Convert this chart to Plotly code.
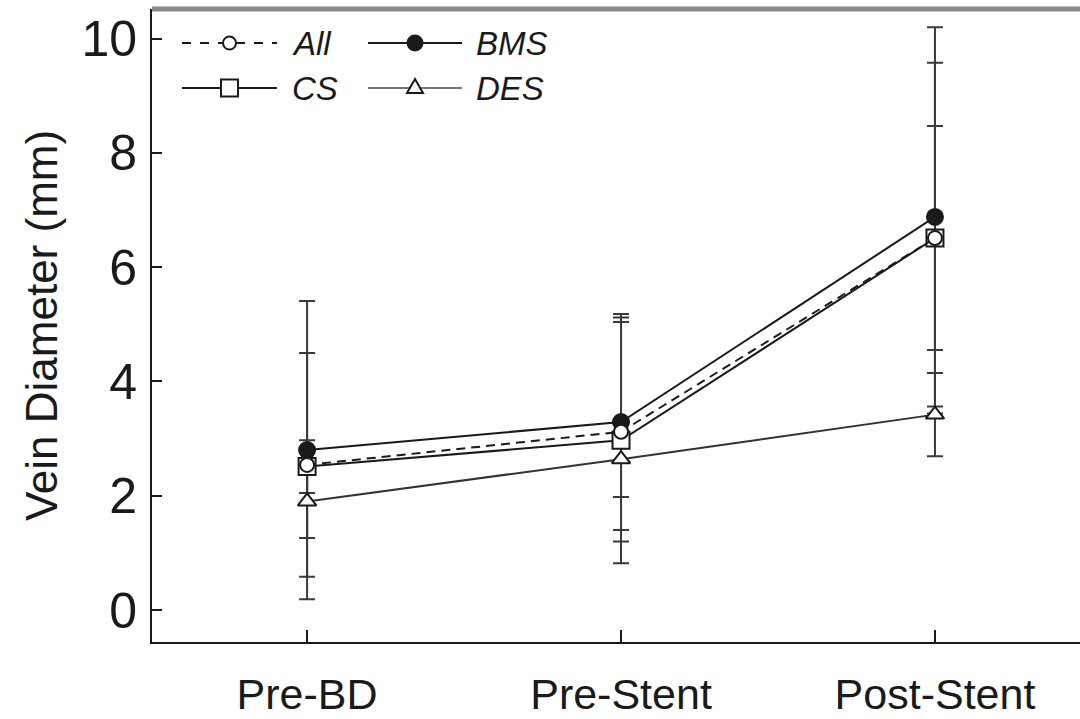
import plotly.graph_objects as go

# ---- data ----
categories = ["Pre-BD", "Pre-Stent", "Post-Stent"]
series_names = ["All", "BMS", "CS", "DES"]
all_mean = [2.54, 3.12, 6.51]
all_sd = [1.96, 1.92, 1.96]
bms_mean = [2.80, 3.29, 6.88]
bms_sd = [2.61, 1.89, 3.32]
cs_mean = [2.51, 2.97, 6.51]
cs_sd = [0.46, 2.15, 3.07]
des_mean = [1.90, 2.64, 3.42]
des_sd = [0.64, 0.66, 0.73]
y_ticks = [0, 2, 4, 6, 8, 10]

xpos = list(range(len(categories)))

W, H = 1080, 719
ML, MR, MT, MB = 152, 0, 9, 77
PL, PR, PT, PB = ML, W - MR, MT, H - MB

def px(X):
    return (X - PL) / (PR - PL)

def py(Y):
    return (PB - Y) / (PB - PT)

FONT = "Arial, Liberation Sans, Helvetica, sans-serif"
INK = "#1a1a1a"
ERR = "#3a3a3a"

styles = {
    "All": dict(mean=all_mean, sd=all_sd, dash="9px,6px", symbol="circle", size=14,
                fill="white", color=INK),
    "BMS": dict(mean=bms_mean, sd=bms_sd, dash="solid", symbol="circle", size=16,
                fill=INK, color=INK),
    "CS": dict(mean=cs_mean, sd=cs_sd, dash="solid", symbol="square", size=17,
               fill="white", color=INK),
    "DES": dict(mean=des_mean, sd=des_sd, dash="solid", symbol="triangle-up", size=16,
                fill="white", color="#333333"),
}

fig = go.Figure()

# error bars first (beneath all lines and markers)
for name in ["BMS", "CS", "All", "DES"]:
    s = styles[name]
    fig.add_trace(go.Scatter(
        x=xpos, y=s["mean"], mode="markers",
        marker=dict(size=1, color="rgba(0,0,0,0)"),
        error_y=dict(type="data", array=s["sd"], visible=True,
                     color=ERR, thickness=2, width=8),
        showlegend=False, hoverinfo="skip"))

# lines + markers
for name in ["BMS", "CS", "All", "DES"]:
    s = styles[name]
    fig.add_trace(go.Scatter(
        x=xpos, y=s["mean"], mode="lines+markers", name=name,
        line=dict(color=s["color"], width=2, dash=s["dash"]),
        marker=dict(symbol=s["symbol"], size=s["size"], color=s["fill"],
                    line=dict(color=INK, width=2)),
        showlegend=False))

# ---- manual legend (2 x 2) ----
shapes = []
annotations = []
legend_rows = {"All": (0, 0), "BMS": (0, 1), "CS": (1, 0), "DES": (1, 1)}
row_y = [43, 88]
col_x0 = [182, 368]
col_x1 = [277, 462]
col_tx = [290, 474]
for name, (r, c) in legend_rows.items():
    s = styles[name]
    yy = py(row_y[r])
    lc = "#777777" if name == "DES" else INK
    shapes.append(dict(type="line", xref="paper", yref="paper",
                       x0=px(col_x0[c]), x1=px(col_x1[c]), y0=yy, y1=yy,
                       line=dict(color=lc, width=2, dash="dash" if name == "All" else "solid"),
                       layer="above"))
    cx = px((col_x0[c] + col_x1[c]) / 2)
    if s["symbol"] == "circle":
        rr = (s["size"] - 1) / 2
        shapes.append(dict(type="circle", xref="paper", yref="paper",
                           xsizemode="pixel", ysizemode="pixel", xanchor=cx, yanchor=yy,
                           x0=-rr, x1=rr, y0=-rr, y1=rr, fillcolor=s["fill"],
                           line=dict(color=INK, width=2), layer="above"))
    elif s["symbol"] == "square":
        rr = s["size"] / 2
        shapes.append(dict(type="rect", xref="paper", yref="paper",
                           xsizemode="pixel", ysizemode="pixel", xanchor=cx, yanchor=yy,
                           x0=-rr, x1=rr, y0=-rr, y1=rr, fillcolor=s["fill"],
                           line=dict(color=INK, width=2), layer="above"))
    else:
        shapes.append(dict(type="path", xref="paper", yref="paper",
                           xsizemode="pixel", ysizemode="pixel", xanchor=cx, yanchor=yy,
                           path="M-8,-5 L8,-5 L0,9 Z", fillcolor="white",
                           line=dict(color=INK, width=2), layer="above"))
    annotations.append(dict(xref="paper", yref="paper", x=px(col_tx[c]), y=yy,
                            xanchor="left", yanchor="middle", showarrow=False,
                            text="<i>%s</i>" % name,
                            font=dict(family=FONT, size=33, color=INK)))

# top grey frame line
shapes.append(dict(type="line", xref="paper", yref="paper", x0=0, x1=1, y0=1, y1=1,
                   line=dict(color="#8a8a8a", width=5), layer="above"))

fig.update_layout(
    template="none",
    width=W, height=H,
    margin=dict(l=ML, r=MR, t=MT, b=MB, pad=0, autoexpand=False),
    paper_bgcolor="white", plot_bgcolor="white",
    shapes=shapes, annotations=annotations,
    showlegend=False,
    xaxis=dict(range=[-0.494, 2.462], tickmode="array", tickvals=xpos, ticktext=categories,
               automargin=False,
               showgrid=False, zeroline=False, showline=True, linecolor=INK, linewidth=2,
               ticks="inside", ticklen=12, tickwidth=2, tickcolor=INK,
               tickfont=dict(family=FONT, size=43, color=INK), ticklabelstandoff=13),
    yaxis=dict(range=[-0.56, 10.52], tickmode="array", tickvals=y_ticks,
               automargin=False,
               showgrid=False, zeroline=False, showline=True, linecolor=INK, linewidth=2,
               ticks="inside", ticklen=10, tickwidth=2, tickcolor=INK,
               tickfont=dict(family=FONT, size=50, color=INK), ticklabelstandoff=3,
               title=dict(text="Vein Diameter (mm)", standoff=10,
                          font=dict(family=FONT, size=44, color=INK))),
)

fig.write_html("out.html")
